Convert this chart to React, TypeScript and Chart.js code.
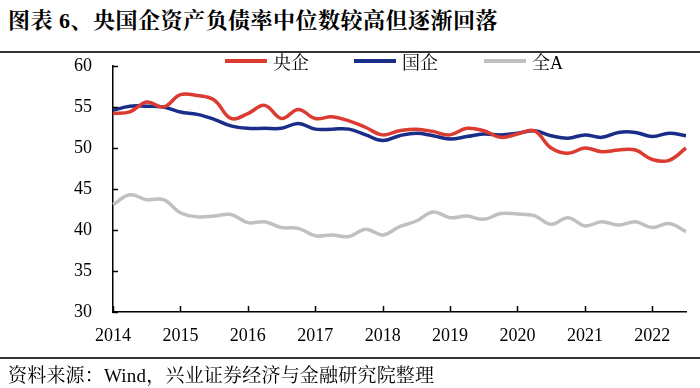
import React, { useEffect, useRef } from "react";
import { Chart, registerables } from "chart.js";

Chart.register(...registerables);

// Quarterly categories 2014Q1 .. 2022Q3
const quarters = [
  "2014Q1", "2014Q2", "2014Q3", "2014Q4",
  "2015Q1", "2015Q2", "2015Q3", "2015Q4",
  "2016Q1", "2016Q2", "2016Q3", "2016Q4",
  "2017Q1", "2017Q2", "2017Q3", "2017Q4",
  "2018Q1", "2018Q2", "2018Q3", "2018Q4",
  "2019Q1", "2019Q2", "2019Q3", "2019Q4",
  "2020Q1", "2020Q2", "2020Q3", "2020Q4",
  "2021Q1", "2021Q2", "2021Q3", "2021Q4",
  "2022Q1", "2022Q2", "2022Q3",
];

const centralSOE = [
  54.2, 54.4, 55.6, 55.0, 56.5, 56.4, 55.85, 53.6,
  54.2, 55.2, 53.6, 54.7, 53.6, 53.8, 53.3, 52.5,
  51.6, 52.1, 52.3, 52.0, 51.6, 52.4, 52.1, 51.3,
  51.7, 52.1, 50.0, 49.35, 50.0, 49.55, 49.75, 49.75,
  48.6, 48.5, 50.0,
];

const stateSOE = [
  54.6, 55.1, 55.1, 55.0, 54.4, 54.1, 53.5, 52.7,
  52.4, 52.4, 52.4, 53.0, 52.3, 52.3, 52.3, 51.6,
  50.9, 51.5, 51.8, 51.5, 51.1, 51.4, 51.7, 51.6,
  51.8, 52.1, 51.5, 51.2, 51.6, 51.3, 51.9, 51.9,
  51.4, 51.8, 51.5,
];

const allA = [
  43.1, 44.3, 43.7, 43.7, 42.1, 41.6, 41.7, 41.9,
  40.9, 41.0, 40.3, 40.2, 39.3, 39.4, 39.2, 40.1,
  39.4, 40.4, 41.1, 42.2, 41.5, 41.7, 41.3, 42.0,
  41.95, 41.75, 40.7, 41.5, 40.5, 41.0, 40.6, 41.0,
  40.3, 40.8, 39.8,
];

const yTicks = [30, 35, 40, 45, 50, 55, 60];
const seriesNames = ["央企", "国企", "全A"];
const seriesColors = ["#DC3B31", "#1A2D88", "#C0C0C0"];

const SERIF = "'Liberation Serif', 'Noto Serif CJK SC', 'Noto Sans CJK SC', serif";

const inwardTicks = {
  id: "inwardTicks",
  afterDraw(chart: any) {
    const { ctx, chartArea, scales } = chart;
    const x = scales.x;
    const y = scales.y;
    ctx.save();
    ctx.strokeStyle = "#000";
    ctx.lineWidth = 1.5;
    x.ticks.forEach((t: any) => {
      const px = Math.round(x.getPixelForValue(t.value)) + 0.5;
      ctx.beginPath();
      ctx.moveTo(px, chartArea.bottom);
      ctx.lineTo(px, chartArea.bottom - 6);
      ctx.stroke();
    });
    y.ticks.forEach((t: any) => {
      const py = Math.round(y.getPixelForValue(t.value)) + 0.5;
      ctx.beginPath();
      ctx.moveTo(chartArea.left, py);
      ctx.lineTo(chartArea.left + 5, py);
      ctx.stroke();
    });
    ctx.restore();
  },
};

export default function App() {
  const ref = useRef<HTMLCanvasElement | null>(null);

  useEffect(() => {
    if (!ref.current) return;
    const series = [centralSOE, stateSOE, allA];
    const chart = new Chart(ref.current, {
      type: "line",
      data: {
        labels: quarters,
        datasets: series.map((d, i) => ({
          label: seriesNames[i],
          data: d,
          borderColor: seriesColors[i],
          backgroundColor: seriesColors[i],
          borderWidth: 3.5,
          pointRadius: 0,
          tension: 0.4,
          fill: false,
        })),
      },
      options: {
        animation: false,
        responsive: true,
        maintainAspectRatio: false,
        layout: { padding: { left: 0, right: 14, top: 66, bottom: 46 } },
        plugins: {
          legend: { display: false },
          tooltip: { enabled: false },
          title: { display: false },
        },
        scales: {
          x: {
            type: "category",
            offset: false,
            grid: { display: false, drawTicks: false },
            border: { display: true, color: "#000", width: 1.5 },
            ticks: {
              autoSkip: false,
              maxRotation: 0,
              padding: 13,
              color: "#000",
              font: { family: SERIF, size: 18 },
              callback: (v: any) => quarters[v as number].slice(0, 4),
            },
            afterBuildTicks: (s: any) => {
              s.ticks = s.ticks.filter((t: any) => t.value % 4 === 0);
            },
            afterFit: (s: any) => {
              s.height = 30;
            },
          },
          y: {
            min: 30,
            max: 60,
            grid: { display: false, drawTicks: false },
            border: { display: true, color: "#000", width: 1.5 },
            ticks: {
              padding: 21,
              color: "#000",
              font: { family: SERIF, size: 18 },
            },
            afterBuildTicks: (s: any) => {
              s.ticks = yTicks.map((v) => ({ value: v }));
            },
            afterFit: (s: any) => {
              s.width = 113;
            },
          },
        },
      },
      plugins: [inwardTicks],
    });
    return () => chart.destroy();
  }, []);

  const legendLeft = [225, 354, 484];

  return (
    <div
      style={{
        position: "fixed",
        left: 0,
        top: 0,
        width: 700,
        height: 388,
        background: "#fff",
        overflow: "hidden",
      }}
    >
      <div
        style={{
          position: "absolute",
          left: 8,
          top: 7,
          fontFamily: SERIF,
          fontWeight: "bold",
          fontSize: 22,
          letterSpacing: 0.5,
          lineHeight: "28px",
          color: "#000",
          whiteSpace: "nowrap",
        }}
      >
        图表 6、央国企资产负债率中位数较高但逐渐回落
      </div>
      <div
        style={{
          position: "absolute",
          left: 0,
          top: 51,
          width: 700,
          height: 2,
          background: "#333",
        }}
      />
      <canvas
        ref={ref}
        style={{ position: "absolute", left: 0, top: 0, width: 700, height: 388 }}
      />
      {seriesNames.map((name, i) => (
        <div
          key={name}
          style={{
            position: "absolute",
            left: legendLeft[i],
            top: 49,
            height: 24,
            display: "flex",
            alignItems: "center",
            fontFamily: SERIF,
            fontSize: 18,
            color: "#000",
            whiteSpace: "nowrap",
          }}
        >
          <span
            style={{
              display: "inline-block",
              width: 42,
              height: 4,
              background: seriesColors[i],
              marginRight: 6,
            }}
          />
          <span>{name}</span>
        </div>
      ))}
      <div
        style={{
          position: "absolute",
          left: 0,
          top: 357,
          width: 700,
          height: 2,
          background: "#333",
        }}
      />
      <div
        style={{
          position: "absolute",
          left: 8,
          top: 364,
          fontFamily: SERIF,
          fontSize: 19,
          letterSpacing: 0.2,
          lineHeight: "24px",
          color: "#000",
          whiteSpace: "nowrap",
        }}
      >
        资料来源：Wind，兴业证券经济与金融研究院整理
      </div>
    </div>
  );
}
